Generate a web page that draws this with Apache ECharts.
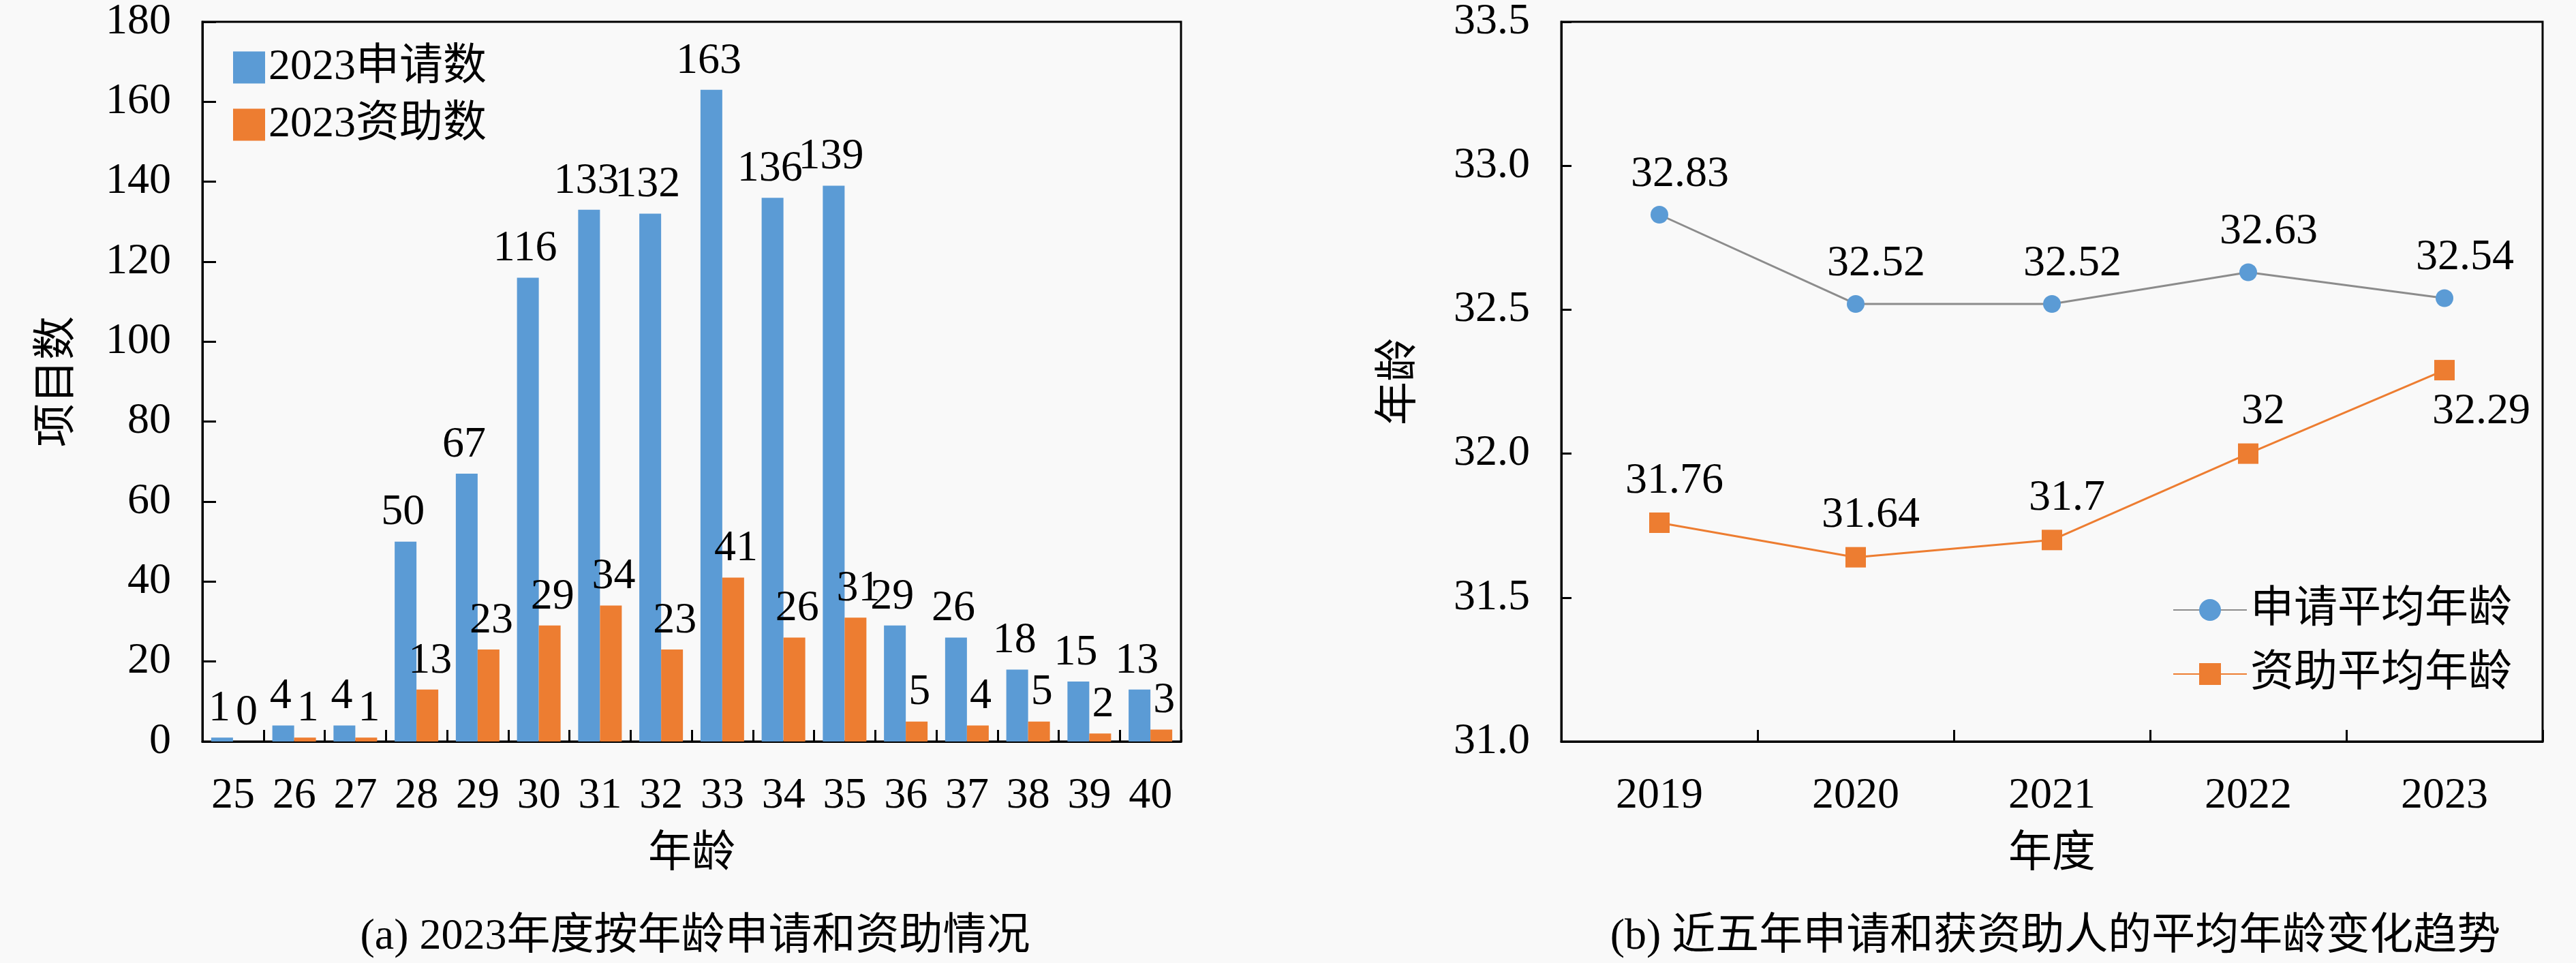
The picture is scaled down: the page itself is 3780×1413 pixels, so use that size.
<!DOCTYPE html>
<html>
<head>
<meta charset="utf-8">
<title>申请和资助情况</title>
<script src="https://cdn.jsdelivr.net/npm/echarts@6/dist/echarts.min.js"></script>
<style>
  html, body { margin: 0; padding: 0; background: #f9f9f9; }
  #chart { width: 3780px; height: 1413px; }
</style>
</head>
<body>
<div id="chart"></div>
<script>
// (a) 2023 applications / funded by age
const ages = ['25', '26', '27', '28', '29', '30', '31', '32', '33', '34', '35', '36', '37', '38', '39', '40'];
const applied2023 = [1, 4, 4, 50, 67, 116, 133, 132, 163, 136, 139, 29, 26, 18, 15, 13];
const funded2023 = [0, 1, 1, 13, 23, 29, 34, 23, 41, 26, 31, 5, 4, 5, 2, 3];

// (b) average age over five years
const years = ['2019', '2020', '2021', '2022', '2023'];
const applyAvgAge = [32.83, 32.52, 32.52, 32.63, 32.54];
const fundAvgAge = [31.76, 31.64, 31.7, 32, 32.29];

const FONT = "'Liberation Serif', 'Noto Sans CJK SC', serif";
const BLUE = '#5b9bd5';
const ORANGE = '#ed7d31';
const text = (size) => ({ color: '#000', fontFamily: FONT, fontSize: size });

const chart = echarts.init(document.getElementById('chart'), null, { renderer: 'canvas' });

// axis styling shared by both panels
const axisLine = { show: true, lineStyle: { color: '#000', width: 3 } };
const axisTick = { show: true, inside: true, length: 17, lineStyle: { color: '#000', width: 3 } };

// last orange label sits below the marker
const fundData = fundAvgAge.map((v, i) => i === fundAvgAge.length - 1
  ? { value: v, label: { position: 'bottom', offset: [54, 0] } }
  : v);

chart.setOption({
  backgroundColor: '#f9f9f9',
  animation: false,
  title: [
    { text: '(a) 2023年度按年龄申请和资助情况', left: 1015, top: 1338, textAlign: 'center', textStyle: Object.assign(text(64), { fontWeight: 'normal' }) },
    { text: '(b) 近五年申请和获资助人的平均年龄变化趋势', left: 3011, top: 1338, textAlign: 'center', textStyle: Object.assign(text(64), { fontWeight: 'normal' }) }
  ],
  legend: [
    {
      data: ['2023申请数', '2023资助数'],
      orient: 'vertical', left: 337, top: 62,
      icon: 'rect',
      itemWidth: 47, itemHeight: 47, itemGap: 20,
      textStyle: text(64)
    },
    {
      data: ['申请平均年龄', '资助平均年龄'],
      orient: 'vertical', left: 3183, top: 858,
      itemWidth: 108, itemHeight: 40, itemGap: 30,
      textStyle: text(64)
    }
  ],
  grid: [
    { left: 297, top: 24, width: 1436, height: 1064, show: true, borderColor: '#000', borderWidth: 3, backgroundColor: 'transparent' },
    { left: 2291, top: 24, width: 1440, height: 1064, show: true, borderColor: '#000', borderWidth: 3, backgroundColor: 'transparent' }
  ],
  xAxis: [
    {
      gridIndex: 0, type: 'category', data: ages,
      name: '年龄', nameLocation: 'middle', nameGap: 134, nameTextStyle: text(64),
      axisLine, axisTick,
      axisLabel: Object.assign(text(64), { margin: 48 })
    },
    {
      gridIndex: 1, type: 'category', data: years,
      name: '年度', nameLocation: 'middle', nameGap: 134, nameTextStyle: text(64),
      axisLine, axisTick,
      axisLabel: Object.assign(text(64), { margin: 48 })
    }
  ],
  yAxis: [
    {
      gridIndex: 0, type: 'value', min: 0, max: 180, interval: 20,
      name: '项目数', nameLocation: 'middle', nameGap: 180, nameTextStyle: text(64),
      axisLine, axisTick: Object.assign({}, axisTick, { length: 20 }),
      splitLine: { show: false },
      axisLabel: Object.assign(text(64), { margin: 46 })
    },
    {
      gridIndex: 1, type: 'value', min: 31, max: 33.5, interval: 0.5,
      name: '年龄', nameLocation: 'middle', nameGap: 205, nameTextStyle: text(64),
      axisLine, axisTick: Object.assign({}, axisTick, { length: 15 }),
      splitLine: { show: false },
      axisLabel: Object.assign(text(64), { margin: 46, formatter: (v) => v.toFixed(1) })
    }
  ],
  series: [
    {
      name: '2023申请数', type: 'bar', xAxisIndex: 0, yAxisIndex: 0,
      data: applied2023, barWidth: 32, barGap: '0%',
      itemStyle: { color: BLUE },
      label: Object.assign(text(64), { show: true, position: 'top', distance: 10, offset: [-4, 0] })
    },
    {
      name: '2023资助数', type: 'bar', xAxisIndex: 0, yAxisIndex: 0,
      data: funded2023, barWidth: 32, barGap: '0%',
      itemStyle: { color: ORANGE },
      label: Object.assign(text(64), { show: true, position: 'top', distance: 10, offset: [4, 0] })
    },
    {
      name: '申请平均年龄', type: 'line', xAxisIndex: 1, yAxisIndex: 1,
      data: applyAvgAge,
      symbol: 'circle', symbolSize: 26,
      lineStyle: { color: '#8c8c8c', width: 3 },
      itemStyle: { color: BLUE },
      label: Object.assign(text(64), { show: true, position: 'top', distance: 14, offset: [30, 0] })
    },
    {
      name: '资助平均年龄', type: 'line', xAxisIndex: 1, yAxisIndex: 1,
      data: fundData,
      symbol: 'rect', symbolSize: 30,
      lineStyle: { color: ORANGE, width: 3 },
      itemStyle: { color: ORANGE },
      label: Object.assign(text(64), { show: true, position: 'top', distance: 14, offset: [22, 0] })
    }
  ]
});
</script>
</body>
</html>
